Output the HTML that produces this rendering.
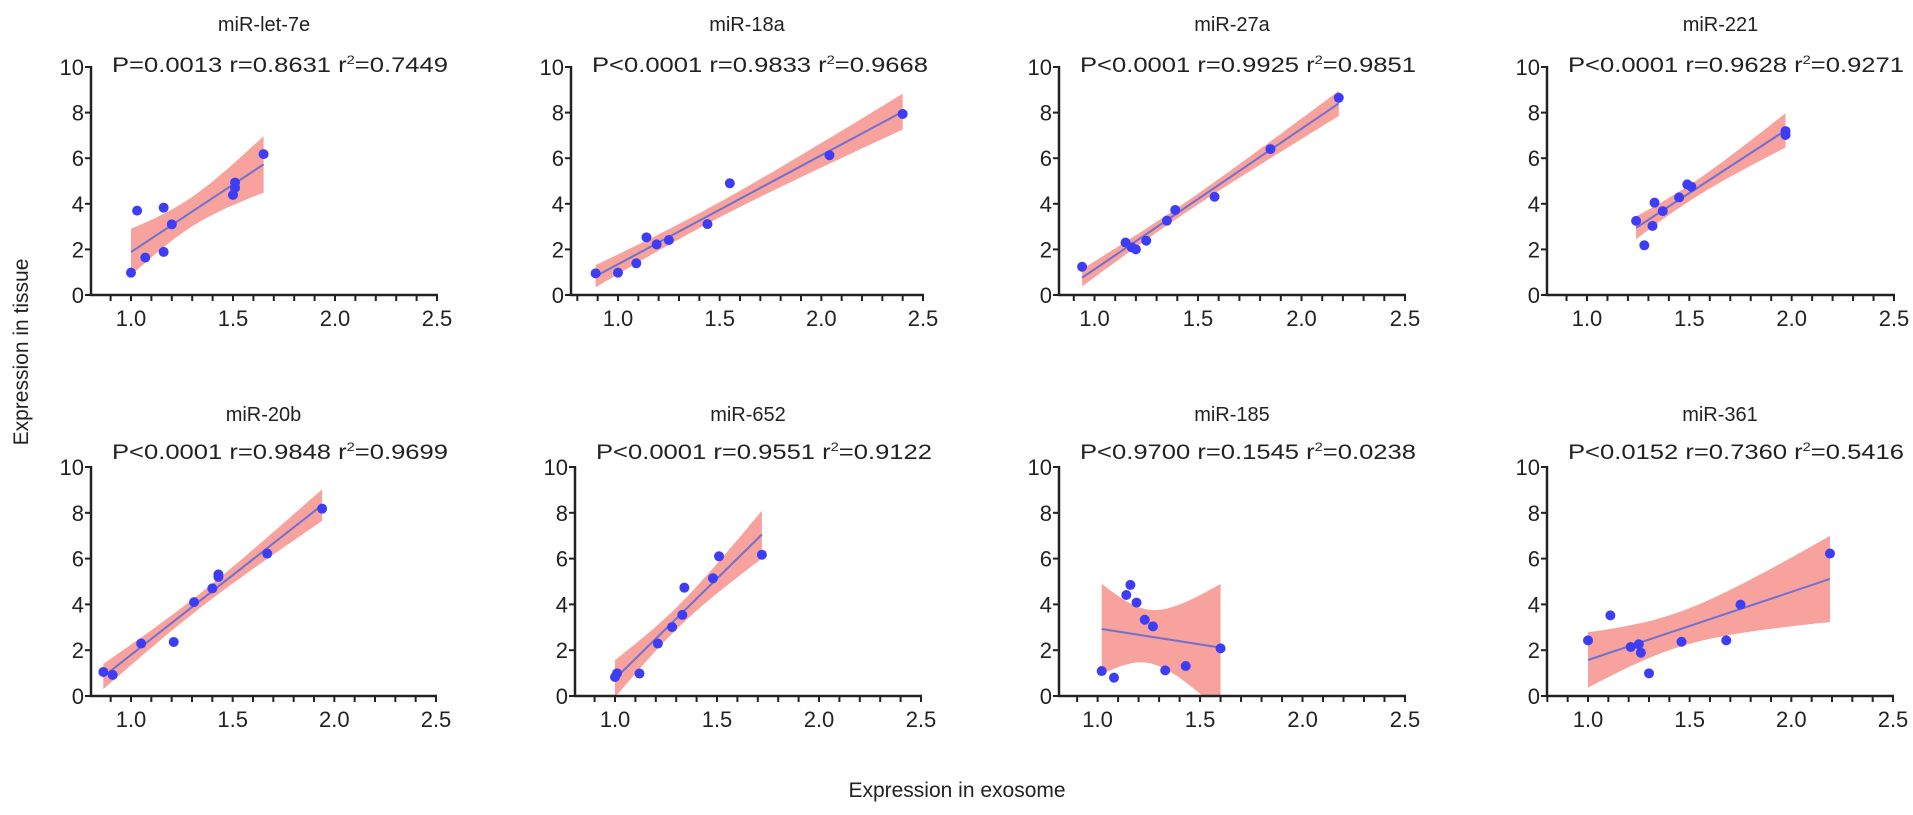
<!DOCTYPE html>
<html><head><meta charset="utf-8">
<style>
html,body{margin:0;padding:0;background:#fff;}
svg{display:block;font-family:"Liberation Sans",Arial,sans-serif;}
</style></head>
<body>
<svg id="fig" width="1913" height="815" viewBox="0 0 1913 815" xmlns="http://www.w3.org/2000/svg">
<text x="0" y="0" transform="translate(28,352) rotate(-90)" text-anchor="middle" font-size="21" fill="#222">Expression in tissue</text>
<text x="957" y="797" text-anchor="middle" font-size="21" fill="#222">Expression in exosome</text>
</svg>
<script>
const titles = ["miR-let-7e","miR-18a","miR-27a","miR-221","miR-20b","miR-652","miR-185","miR-361"];
const statsP = ["P=0.0013","P<0.0001","P<0.0001","P<0.0001","P<0.0001","P<0.0001","P<0.9700","P<0.0152"];
const statsR = ["r=0.8631","r=0.9833","r=0.9925","r=0.9628","r=0.9848","r=0.9551","r=0.1545","r=0.7360"];
const statsR2 = ["=0.7449","=0.9668","=0.9851","=0.9271","=0.9699","=0.9122","=0.0238","=0.5416"];
const xs1 = [1.0,1.03,1.07,1.16,1.16,1.2,1.5,1.51,1.51,1.65];
const ys1 = [0.98,3.7,1.64,3.83,1.89,3.1,4.39,4.7,4.93,6.18];
const xs2 = [0.89,1.0,1.09,1.14,1.19,1.25,1.44,1.55,2.04,2.40];
const ys2 = [0.95,0.98,1.39,2.53,2.22,2.41,3.11,4.9,6.13,7.94];
const xs3 = [0.94,1.15,1.18,1.20,1.25,1.35,1.39,1.58,1.85,2.18];
const ys3 = [1.24,2.3,2.09,2.0,2.38,3.26,3.73,4.31,6.4,8.65];
const xs4 = [1.24,1.28,1.32,1.33,1.37,1.45,1.49,1.51,1.97,1.97];
const ys4 = [3.25,2.18,3.03,4.05,3.68,4.28,4.85,4.75,7.02,7.19];
const xs5 = [0.864,0.91,1.05,1.21,1.31,1.40,1.43,1.43,1.67,1.94];
const ys5 = [1.05,0.92,2.29,2.36,4.1,4.7,5.2,5.31,6.22,8.18];
const xs6 = [1.0,1.01,1.12,1.21,1.28,1.33,1.34,1.48,1.51,1.72];
const ys6 = [0.83,0.99,0.98,2.29,3.01,3.54,4.73,5.14,6.1,6.17];
const xs7 = [1.02,1.08,1.14,1.16,1.19,1.23,1.27,1.33,1.43,1.60];
const ys7 = [1.09,0.8,4.41,4.85,4.08,3.33,3.04,1.12,1.31,2.08];
const xs8 = [1.0,1.11,1.21,1.25,1.26,1.30,1.46,1.68,1.75,2.19];
const ys8 = [2.43,3.52,2.14,2.26,1.89,0.99,2.37,2.43,3.99,6.22];
const xTicks = [1.0,1.5,2.0,2.5];
const xTickLabels = ["1.0","1.5","2.0","2.5"];
const yTicks = [0,2,4,6,8,10];
const yTickLabels = ["0","2","4","6","8","10"];
const allX = [xs1,xs2,xs3,xs4,xs5,xs6,xs7,xs8];
const allY = [ys1,ys2,ys3,ys4,ys5,ys6,ys7,ys8];

const NS = "http://www.w3.org/2000/svg";
const svg = document.getElementById('fig');
function mk(tag, attrs, parent){
  const e = document.createElementNS(NS, tag);
  for (const k in attrs) e.setAttribute(k, attrs[k]);
  (parent||svg).appendChild(e);
  return e;
}
const layout = [
  {ax:91, p1:131, p25:437},{ax:571, p1:618, p25:923},{ax:1059, p1:1094.5, p25:1405},{ax:1547, p1:1587, p25:1894},
  {ax:91, p1:131, p25:436},{ax:575, p1:615, p25:921},{ax:1059, p1:1097.6, p25:1405},{ax:1547, p1:1588, p25:1893}
];
const rows = [{y0:295, y10:67, ty:31, sy:72},{y0:696, y10:467, ty:421, sy:459}];
const tcrit = 2.306;

for (let i=0;i<8;i++){
  const L = layout[i], R = rows[i<4?0:1];
  const g = mk('g',{});
  
  
  const sx = v => L.p1 + (v-1.0)*(L.p25-L.p1)/1.5;
  const sy = v => R.y0 - v*(R.y0-R.y10)/10;
  const xmin = 1.0 - (L.p1-L.ax)/((L.p25-L.p1)/1.5);
  const xv = allX[i], yv = allY[i], n = xv.length;
  const mx = xv.reduce((a,b)=>a+b,0)/n, my = yv.reduce((a,b)=>a+b,0)/n;
  let sxx=0, sxy=0; for(let k=0;k<n;k++){sxx+=(xv[k]-mx)**2; sxy+=(xv[k]-mx)*(yv[k]-my);}
  const b = sxy/sxx, a = my - b*mx;
  let sse=0; for(let k=0;k<n;k++){sse+=(yv[k]-a-b*xv[k])**2;}
  const s = Math.sqrt(sse/(n-2));
  const x0 = Math.min(...xv), x1 = Math.max(...xv);
  const up=[], lo=[];
  for (let j=0;j<=40;j++){
    const x = x0 + (x1-x0)*j/40;
    const h = tcrit*s*Math.sqrt(1/n + (x-mx)**2/sxx);
    const yh = a+b*x;
    up.push(sx(x).toFixed(1)+','+sy(Math.min(yh+h,10.5)).toFixed(1));
    lo.unshift(sx(x).toFixed(1)+','+sy(Math.max(yh-h,0)).toFixed(1));
  }
  const band = mk('polygon',{points: up.concat(lo).join(' '), fill:'#f7a29c'}, g);
  
  
  const ln = mk('line',{x1:sx(x0),y1:sy(a+b*x0),x2:sx(x1),y2:sy(a+b*x1),stroke:'#7070d0','stroke-width':2}, g);
  
  
  for (let k=0;k<n;k++){
    const c = mk('circle',{cx:sx(xv[k]),cy:sy(yv[k]),r:5,fill:'#3d3df5'}, g);
    
    
  }
  const ya = mk('line',{x1:L.ax,y1:R.y10-1,x2:L.ax,y2:R.y0+1,stroke:'#222','stroke-width':2.5}, g);
  
  
  const xa = mk('line',{x1:L.ax-1,y1:R.y0,x2:L.p25+1,y2:R.y0,stroke:'#222','stroke-width':2.5}, g);
  
  
  yTicks.forEach((t,k)=>{
    mk('line',{x1:L.ax-6,y1:sy(t),x2:L.ax,y2:sy(t),stroke:'#222','stroke-width':2}, g);
    const tl = mk('text',{x:L.ax-7,y:sy(t)+8,'text-anchor':'end','font-size':22,fill:'#222'}, g);
    tl.textContent = yTickLabels[k];
    
    
  });
  for (let m=Math.ceil(xmin*10); m<=25; m++){
    const v = m/10;
    mk('line',{x1:sx(v),y1:R.y0,x2:sx(v),y2:R.y0+6,stroke:'#222','stroke-width':2}, g);
  }
  xTicks.forEach((t,k)=>{
    const tl = mk('text',{x:sx(t),y:R.y0+31,'text-anchor':'middle','font-size':22,fill:'#222'}, g);
    tl.textContent = xTickLabels[k];
    
    
  });
  const tt = mk('text',{x:(L.ax+L.p25)/2,y:R.ty,'text-anchor':'middle','font-size':20,fill:'#222'}, g);
  tt.textContent = titles[i];
  
  
  const st = mk('text',{x:L.ax+21,y:R.sy,'font-size':21,fill:'#222',textLength:336,lengthAdjust:'spacingAndGlyphs'}, g);
  
  
  const t1 = mk('tspan',{}, st); t1.textContent = statsP[i] + '  ' + statsR[i] + '  r';
  const t2 = mk('tspan',{dy:-8,'font-size':12}, st); t2.textContent = '2';
  const t3 = mk('tspan',{dy:8}, st); t3.textContent = statsR2[i];
}
</script>
</body></html>
